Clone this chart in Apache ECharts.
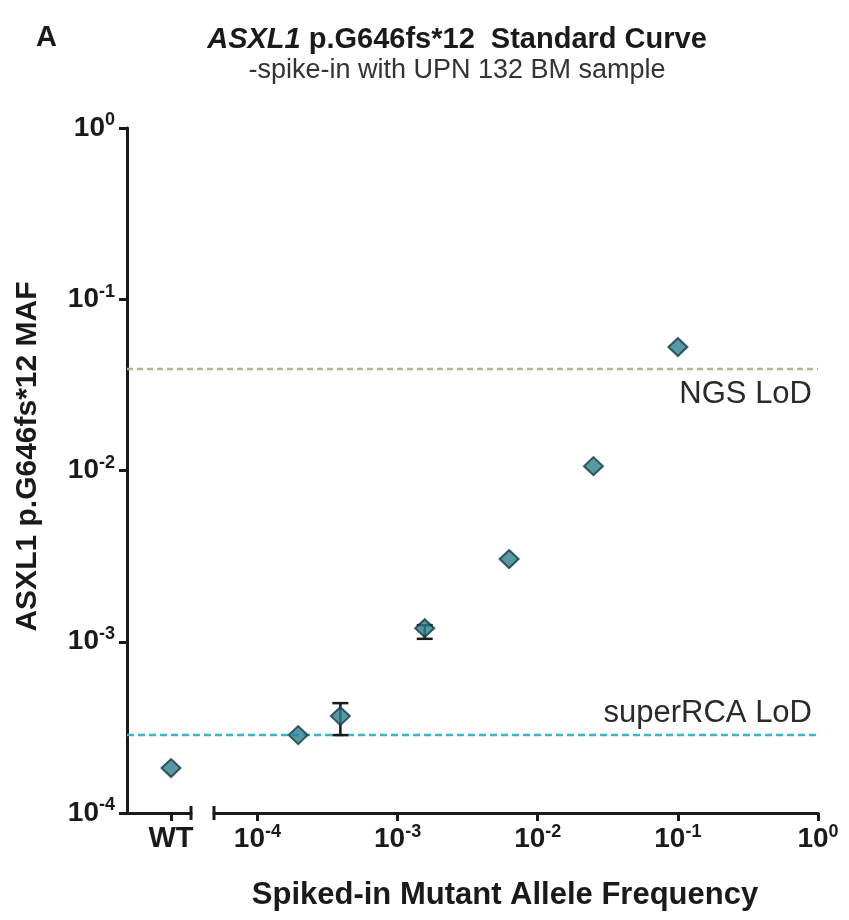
<!DOCTYPE html>
<html>
<head>
<meta charset="utf-8">
<script src="https://cdn.jsdelivr.net/npm/echarts@6/dist/echarts.min.js"></script>
<style>
  html, body { margin: 0; padding: 0; background: #fff; }
  #chart { width: 849px; height: 920px; }
</style>
</head>
<body>
<div id="chart"></div>
<script>
// spiked-in mutant allele frequency (4x dilution series)
const spikeFreq = [0.1 / 512, 0.1 / 256, 0.1 / 64, 0.1 / 16, 0.1 / 4, 0.1];
// measured MAF (mean) and error bar bounds
const mafMean = [2.85e-4, 3.68e-4, 1.2e-3, 3.04e-3, 1.06e-2, 5.26e-2];
const mafLow = [null, 2.85e-4, 1.04e-3, null, null, null];
const mafHigh = [null, 4.38e-4, 1.25e-3, null, null, null];
// wild type sample
const wtMaf = [1.83e-4];
// limits of detection
const ngsLod = 0.0392;
const rcaLod = 2.85e-4;
// tick labels
const decadeTicks = [1e-4, 1e-3, 1e-2, 1e-1, 1];

const FONT = 'Liberation Sans, Arial, sans-serif';
const INK = '#1a1a1a';
const xMin = 4.9e-5;

const chart = echarts.init(document.getElementById('chart'));

const powLabel = v => '{b|10}{s|' + Math.round(Math.log10(v)) + '}';
const powRich = {
  b: { fontSize: 28, fontWeight: 'bold', color: INK, fontFamily: FONT },
  s: { fontSize: 18, fontWeight: 'bold', color: INK, fontFamily: FONT, padding: [0, 0, 15, 0] }
};

const markerStyle = { color: '#2b7f8f', borderColor: '#143840', borderWidth: 2 };

// end caps on the broken x axis
function capItem(params, api) {
  const p = api.coord([api.value(0), api.value(1)]);
  return {
    type: 'line',
    shape: { x1: p[0], y1: p[1] - 7, x2: p[0], y2: p[1] + 7 },
    style: { stroke: INK, lineWidth: 3 }
  };
}

// vertical error bars with caps
function errorItem(params, api) {
  if (isNaN(api.value(1))) return null;
  const lo = api.coord([api.value(0), api.value(1)]);
  const hi = api.coord([api.value(0), api.value(2)]);
  const w = 8;
  const st = { stroke: INK, lineWidth: 2.5 };
  return {
    type: 'group',
    children: [
      { type: 'line', shape: { x1: lo[0], y1: lo[1], x2: hi[0], y2: hi[1] }, style: st },
      { type: 'line', shape: { x1: lo[0] - w, y1: lo[1], x2: lo[0] + w, y2: lo[1] }, style: st },
      { type: 'line', shape: { x1: hi[0] - w, y1: hi[1], x2: hi[0] + w, y2: hi[1] }, style: st }
    ]
  };
}

// dashed limit-of-detection line across the whole plot
function lodSeries(value, name, color, dash, labelOffsetY) {
  return {
    type: 'line', xAxisIndex: 2, yAxisIndex: 2, silent: true, z: 1,
    showSymbol: false, symbol: 'none',
    lineStyle: { color: color, type: dash, width: 2.5 },
    data: [[0, value], [1, value]],
    endLabel: {
      show: true, formatter: name, distance: 0, offset: [-6, labelOffsetY], align: 'right',
      fontSize: 31, color: '#2a2a2a', fontFamily: FONT
    }
  };
}

const yBase = { type: 'log', logBase: 10, min: 1e-4, max: 1, splitLine: { show: false } };

const option = {
  backgroundColor: '#fff',
  animation: false,
  title: [
    { text: 'A', left: 31, top: 18, textStyle: { fontSize: 29, fontWeight: 'bold', color: INK, fontFamily: FONT } },
    {
      text: '{i|ASXL1}{b| p.G646fs*12  Standard Curve}',
      subtext: '-spike-in with UPN 132 BM sample',
      left: 452, top: 20, textAlign: 'center', itemGap: 3,
      textStyle: {
        rich: {
          i: { fontSize: 29, fontWeight: 'bold', fontStyle: 'italic', color: INK, fontFamily: FONT },
          b: { fontSize: 29, fontWeight: 'bold', color: INK, fontFamily: FONT }
        }
      },
      subtextStyle: { fontSize: 27, color: '#333', fontFamily: FONT }
    },
    {
      text: 'Spiked-in Mutant Allele Frequency', left: 500, top: 875, textAlign: 'center',
      textStyle: { fontSize: 31, fontWeight: 'bold', color: INK, fontFamily: FONT }
    }
  ],
  grid: [
    { left: 127, top: 128, width: 64, height: 685 },
    { left: 214, top: 128, width: 604, height: 685 },
    { left: 127, top: 128, width: 691, height: 685 }
  ],
  xAxis: [
    {
      gridIndex: 0, type: 'value', min: -1.1, max: 0.5,
      axisLine: { onZero: false, lineStyle: { color: INK, width: 3 } },
      axisTick: { customValues: [0], length: 8, lineStyle: { color: INK, width: 3 } },
      axisLabel: { customValues: [0], formatter: () => 'WT', margin: 11, fontSize: 29, fontWeight: 'bold', color: INK, fontFamily: FONT },
      splitLine: { show: false }
    },
    {
      gridIndex: 1, type: 'log', logBase: 10, min: xMin, max: 1,
      axisLine: { onZero: false, lineStyle: { color: INK, width: 3 } },
      axisTick: { customValues: decadeTicks, length: 8, lineStyle: { color: INK, width: 3 } },
      axisLabel: { customValues: decadeTicks, formatter: powLabel, rich: powRich, margin: 10, showMinLabel: true, showMaxLabel: true },
      splitLine: { show: false }
    },
    { gridIndex: 2, type: 'value', min: 0, max: 1, show: false }
  ],
  yAxis: [
    Object.assign({}, yBase, {
      gridIndex: 0,
      name: 'ASXL1 p.G646fs*12 MAF', nameLocation: 'middle', nameGap: 84, nameRotate: 90,
      nameTextStyle: { fontSize: 30, fontWeight: 'bold', color: INK, fontFamily: FONT, padding: [0, 0, 0, 28] },
      axisLine: { onZero: false, lineStyle: { color: INK, width: 3 } },
      axisTick: { length: 8, lineStyle: { color: INK, width: 3 } },
      axisLabel: { formatter: powLabel, rich: powRich, margin: 12 }
    }),
    Object.assign({}, yBase, { gridIndex: 1, show: false }),
    Object.assign({}, yBase, { gridIndex: 2, show: false })
  ],
  series: [
    lodSeries(ngsLod, 'NGS LoD', '#a9bb86', [6, 4], 26),
    lodSeries(rcaLod, 'superRCA LoD', '#3ab6c8', [7, 4], -22),
    {
      type: 'custom', xAxisIndex: 0, yAxisIndex: 0, renderItem: capItem,
      data: [[0.5, 1e-4]], silent: true, z: 5
    },
    {
      type: 'custom', xAxisIndex: 1, yAxisIndex: 1, renderItem: capItem,
      data: [[xMin, 1e-4]], silent: true, z: 5
    },
    {
      type: 'custom', xAxisIndex: 1, yAxisIndex: 1, renderItem: errorItem, z: 3,
      data: spikeFreq.map((x, i) => [x, mafLow[i] === null ? NaN : mafLow[i], mafHigh[i] === null ? NaN : mafHigh[i]])
    },
    {
      type: 'scatter', xAxisIndex: 0, yAxisIndex: 0, symbol: 'diamond', symbolSize: [19, 18],
      itemStyle: markerStyle, z: 4,
      data: wtMaf.map(v => [0, v])
    },
    {
      type: 'scatter', xAxisIndex: 1, yAxisIndex: 1, symbol: 'diamond', symbolSize: [19, 18],
      itemStyle: markerStyle, z: 4,
      data: spikeFreq.map((x, i) => [x, mafMean[i]])
    }
  ]
};

chart.setOption(option);
</script>
</body>
</html>
